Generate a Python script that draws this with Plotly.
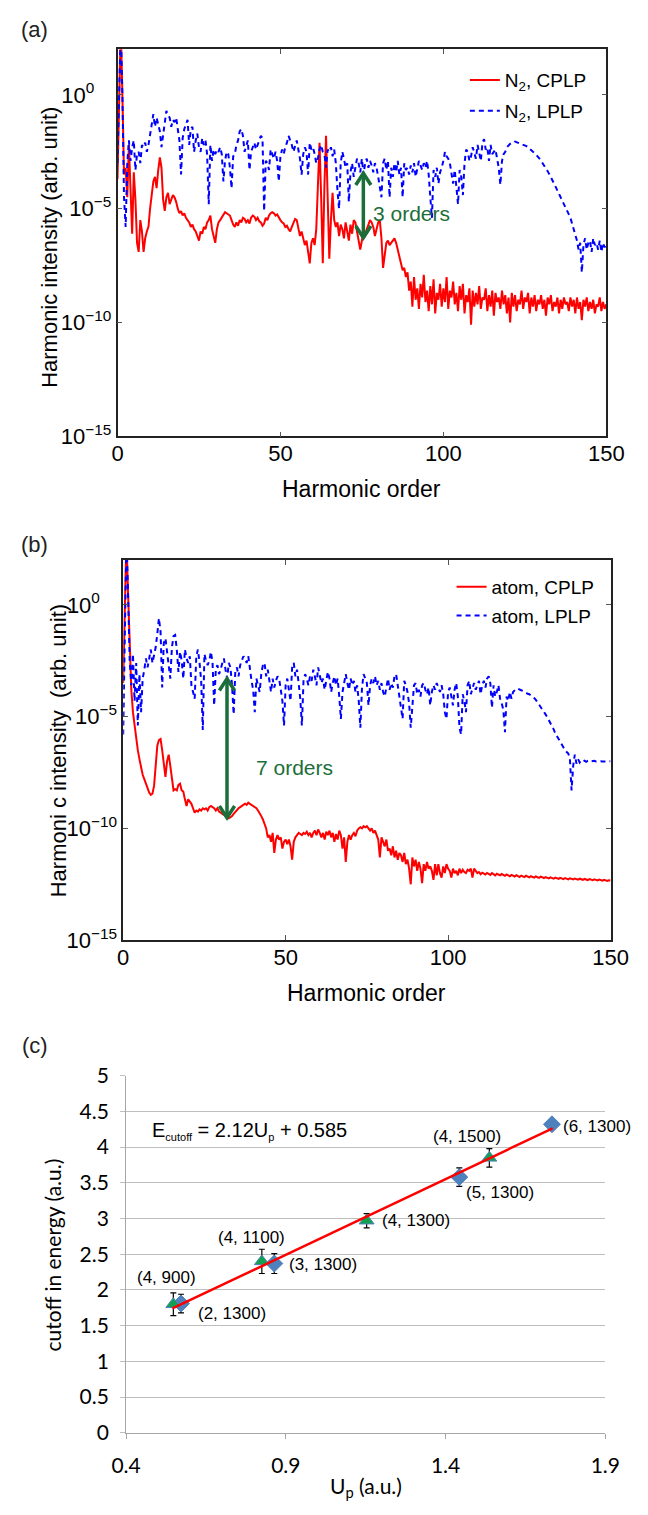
import plotly.graph_objects as go

W, H = 648, 1515

# ---------------- data ----------------
harmonic_order = [i * 0.5 for i in range(301)]   # 0 ... 150, step 0.5

# log10 of harmonic intensity, panel (a) N2
n2_cplp_log10 = [
    -3.7, 0.5, 3.0, 0.0, -3.5, -3.2, -4.5, -2.2, -4.0, -6.1, -3.4, -4.6, -6.5, -6.9, -5.5, -6.0, -6.9, -6.3, -6.0, -5.8,
    -5.0, -4.5, -3.8, -3.6, -4.1, -3.3, -2.75, -3.2, -4.6, -5.1, -4.5, -4.3, -4.8, -4.6, -4.4, -4.5, -4.7, -5.0, -5.2, -5.1,
    -5.3, -5.2, -5.4, -5.5, -5.6, -5.8, -5.7, -5.9, -6.0, -6.2, -6.4, -6.0, -6.1, -5.8, -5.9, -5.6, -5.5, -5.3, -5.9, -6.2,
    -6.5, -5.9, -5.6, -5.5, -5.4, -5.25, -5.15, -5.2, -5.25, -5.3, -5.5, -5.7, -5.8, -5.6, -5.75, -5.5, -5.6, -5.4, -5.45, -5.6,
    -5.5, -5.65, -5.4, -5.3, -5.35, -5.5, -5.4, -5.55, -5.6, -5.75, -5.65, -5.4, -5.5, -5.3, -5.2, -5.15, -5.2, -5.3, -5.25, -5.4,
    -5.5, -5.6, -5.65, -5.8, -5.75, -5.9, -6.0, -5.8, -5.6, -5.45, -5.5, -5.9, -6.2, -6.0, -6.3, -6.6, -6.4, -7.0, -7.4, -6.5,
    -6.3, -6.6, -5.9, -4.0, -2.1, -4.5, -7.4, -4.0, -1.8, -4.5, -7.2, -5.5, -4.3, -5.5, -5.8, -5.6, -6.2, -5.7, -5.9, -6.3,
    -5.6, -6.0, -6.4, -5.7, -6.1, -5.5, -5.6, -6.0, -6.4, -6.8, -6.4, -6.0, -6.1, -5.9, -5.7, -5.5, -5.6, -5.8, -6.2, -5.9,
    -5.6, -5.5, -6.3, -7.6, -7.1, -6.5, -6.4, -6.6, -6.5, -6.4, -6.3, -6.5, -6.8, -7.1, -7.4, -7.7, -7.6, -8.0, -7.8, -8.6,
    -8.2, -9.3, -8.0, -9.0, -8.5, -9.4, -8.3, -8.9, -7.9, -9.1, -8.6, -9.5, -8.4, -9.2, -8.1, -9.6, -8.7, -9.0, -8.3, -9.3,
    -8.5, -9.1, -8.0, -9.4, -8.6, -8.9, -8.2, -9.2, -8.7, -9.5, -8.4, -9.0, -8.3, -9.6, -8.8, -9.1, -8.5, -10.1, -8.6, -9.3,
    -8.7, -9.2, -8.4, -9.4, -8.9, -9.0, -8.5, -9.5, -8.8, -9.3, -8.6, -9.7, -8.7, -9.1, -8.9, -9.4, -8.6, -9.2, -8.8, -9.6,
    -8.9, -10.0, -8.7, -9.3, -8.8, -9.5, -9.0, -9.2, -8.6, -9.4, -8.9, -9.1, -8.7, -9.6, -8.9, -9.3, -8.8, -9.5, -9.0, -9.2,
    -8.8, -9.4, -9.0, -9.7, -8.9, -9.2, -8.8, -9.5, -9.1, -9.3, -8.9, -9.6, -9.0, -9.4, -8.9, -9.2, -9.1, -9.5, -8.9, -9.3,
    -9.0, -9.6, -8.9, -9.4, -9.1, -9.9, -9.0, -9.3, -8.9, -9.5, -9.1, -9.4, -9.0, -9.6, -9.2, -9.3, -8.9, -9.5, -9.1, -9.4,
    -9.2,
]

n2_lplp_log10 = [
    -3.0, 0.5, 3.0, 0.0, -4.5, -5.8, -3.0, -2.0, -2.9, -2.3, -2.0, -3.3, -2.6, -2.5, -3.0, -2.2, -2.3, -2.1, -2.5, -2.2,
    -1.7, -1.2, -0.85, -1.4, -1.0, -1.3, -1.6, -2.3, -1.8, -1.2, -0.7, -0.9, -1.0, -1.4, -1.1, -1.2, -1.0, -1.5, -2.0, -3.5,
    -1.9, -1.5, -1.3, -1.1, -2.2, -1.5, -1.4, -2.5, -2.0, -1.7, -2.3, -2.5, -1.9, -2.2, -2.0, -2.6, -4.8, -2.2, -2.9, -2.4,
    -2.6, -2.4, -2.5, -2.3, -2.6, -3.8, -2.9, -2.5, -2.6, -3.2, -4.1, -2.7, -2.6, -2.2, -2.0, -1.6, -1.5, -1.8, -2.5, -2.2,
    -2.0, -3.3, -2.5, -2.3, -2.1, -2.4, -2.2, -2.0, -1.8, -1.9, -5.1, -2.9, -3.0, -3.3, -2.4, -2.6, -2.8, -2.5, -2.9, -3.8,
    -2.7, -2.4, -2.6, -2.3, -2.1, -1.8, -2.0, -2.2, -2.5, -2.2, -2.0, -2.4, -2.8, -3.5, -2.6, -2.3, -2.5, -3.5, -2.1, -2.4,
    -2.3, -2.6, -3.0, -2.8, -2.4, -2.2, -2.5, -2.6, -3.2, -2.4, -2.5, -2.3, -2.7, -2.4, -3.0, -4.2, -5.0, -3.0, -2.5, -2.8,
    -3.2, -3.0, -4.7, -3.4, -3.0, -3.6, -3.1, -2.8, -3.0, -3.4, -2.8, -3.5, -3.0, -2.8, -3.2, -2.9, -3.1, -3.4, -3.0, -3.2,
    -3.6, -4.0, -4.5, -3.0, -2.8, -3.3, -2.9, -4.5, -3.2, -3.6, -3.0, -3.4, -2.9, -3.5, -3.2, -4.5, -3.0, -3.3, -3.2, -3.5,
    -3.1, -3.4, -3.0, -3.6, -3.2, -2.9, -3.1, -3.3, -3.0, -3.2, -2.9, -3.5, -4.5, -5.4, -3.3, -3.6, -3.2, -3.9, -3.4, -3.2,
    -2.9, -2.5, -2.7, -2.8, -3.0, -3.4, -3.9, -3.3, -4.1, -4.8, -3.3, -3.6, -4.4, -3.0, -2.4, -2.5, -2.9, -2.7, -2.3, -2.6,
    -2.8, -2.2, -2.5, -2.9, -2.1, -1.95, -2.4, -2.3, -2.9, -2.2, -2.6, -2.5, -2.4, -2.8, -3.2, -3.95, -2.9, -2.6, -2.5, -2.3,
    -2.2, -2.15, -2.1, -2.1, -2.05, -2.08, -2.1, -2.12, -2.15, -2.18, -2.2, -2.25, -2.3, -2.38, -2.45, -2.5, -2.55, -2.62, -2.7, -2.8,
    -2.9, -3.0, -3.1, -3.22, -3.35, -3.48, -3.6, -3.75, -3.9, -4.05, -4.2, -4.35, -4.5, -4.65, -4.8, -4.95, -5.1, -5.25, -5.4, -5.65,
    -5.9, -6.2, -6.4, -6.8, -6.5, -7.8, -6.6, -6.3, -6.8, -6.5, -6.4, -6.9, -6.3, -6.6, -6.5, -6.8, -6.4, -6.9, -6.5, -6.7,
    -6.5,
]

# log10 of harmonic intensity, panel (b) atom
atom_cplp_log10 = [
    -3.5, 1.0, 3.0, 0.5, -2.3, -3.8, -4.8, -5.4, -6.0, -6.5, -6.9, -7.3, -7.6, -7.8, -8.0, -8.25, -8.4, -8.5, -8.45, -8.1,
    -7.2, -6.3, -6.05, -6.0, -6.5, -7.1, -7.7, -7.0, -6.7, -7.2, -7.9, -8.3, -8.25, -8.3, -8.05, -8.0, -8.3, -8.35, -8.7, -9.0,
    -8.7, -8.8, -8.9, -9.1, -9.3, -9.2, -9.25, -9.15, -9.2, -9.1, -9.15, -9.1, -9.2, -9.05, -9.0, -9.05, -9.1, -9.2, -9.1, -9.25,
    -9.3, -9.35, -9.4, -9.45, -9.5, -9.55, -9.5, -9.45, -9.35, -9.25, -9.2, -9.1, -9.05, -9.0, -8.95, -8.9, -8.95, -8.85, -8.9, -8.95,
    -9.0, -9.05, -9.1, -9.2, -9.3, -9.45, -9.6, -9.8, -10.0, -10.4, -10.3, -10.6, -10.2, -11.1, -10.5, -10.3, -10.5, -10.4, -10.9, -10.6,
    -10.5, -10.7, -10.5, -10.8, -11.4, -10.6, -10.4, -10.3, -10.2, -10.25, -10.3, -10.2, -10.25, -10.15, -10.3, -10.2, -10.4, -10.2, -10.1, -10.3,
    -10.05, -10.2, -10.4, -10.2, -10.5, -10.15, -10.3, -10.1, -10.4, -10.2, -10.6, -10.25, -10.5, -10.1, -10.3, -10.9, -10.4, -11.5, -10.6, -10.3,
    -10.5, -10.3, -10.2, -10.35, -10.1, -10.0, -9.95, -10.0, -9.9, -9.95, -9.9, -10.0, -10.1, -10.0, -10.2, -10.1, -10.3, -10.5, -11.3, -10.4,
    -10.6, -10.8, -10.5, -11.0, -10.9, -11.2, -10.8, -11.3, -11.0, -11.4, -11.1, -11.2, -11.5, -11.1, -11.6, -11.4, -11.8, -12.5, -11.3, -11.7,
    -11.4, -11.9, -11.5, -11.8, -12.45, -11.6, -11.9, -11.5, -11.8, -11.7, -11.9, -12.3, -11.6, -12.1, -11.6, -12.0, -12.2, -11.7, -12.0, -11.6,
    -11.8, -11.9, -12.2, -11.8, -12.0, -11.9, -12.1, -11.8, -12.0, -11.85, -11.95, -12.0, -11.85, -11.9, -11.8, -12.2, -11.8, -11.9, -12.0, -11.95,
    -12.05, -11.98, -12.02, -12.06, -11.99, -12.04, -12.08, -12.0, -12.05, -12.1, -12.03, -12.07, -12.1, -12.04, -12.08, -12.12, -12.06, -12.1, -12.14, -12.08,
    -12.12, -12.15, -12.09, -12.13, -12.17, -12.11, -12.15, -12.18, -12.12, -12.16, -12.19, -12.14, -12.17, -12.2, -12.15, -12.18, -12.21, -12.16, -12.19, -12.22,
    -12.18, -12.21, -12.24, -12.19, -12.22, -12.25, -12.2, -12.23, -12.26, -12.21, -12.24, -12.27, -12.22, -12.25, -12.28, -12.23, -12.26, -12.28, -12.24, -12.27,
    -12.29, -12.25, -12.28, -12.3, -12.26, -12.29, -12.31, -12.27, -12.3, -12.32, -12.28, -12.31, -12.33, -12.29, -12.32, -12.34, -12.3, -12.33, -12.35, -12.32,
    -12.33,
]

atom_lplp_log10 = [
    -5.8, 1.0, 3.0, 0.5, -2.5, -3.6, -2.2, -4.3, -2.6, -5.4, -3.1, -4.8, -3.3, -2.9, -2.4, -2.8, -2.4, -2.0, -2.6, -2.2,
    -1.9, -1.3, -0.6, -1.2, -3.7, -1.7, -1.5, -2.1, -2.8, -3.3, -1.9, -1.4, -1.35, -2.0, -3.0, -2.1, -2.5, -3.3, -2.0, -2.4,
    -2.6, -2.3, -3.6, -3.9, -4.2, -2.3, -2.0, -2.6, -3.4, -5.6, -2.2, -2.5, -2.7, -2.5, -2.1, -2.6, -4.5, -2.9, -2.7, -3.1,
    -2.9, -2.6, -2.4, -2.9, -3.3, -2.6, -2.8, -3.6, -4.9, -3.0, -2.8, -3.2, -2.7, -2.5, -2.3, -2.4, -2.6, -2.3, -2.9, -3.4,
    -3.8, -4.8, -3.3, -3.6, -3.9, -3.1, -2.7, -2.6, -3.2, -2.9, -3.5, -3.9, -3.3, -3.7, -3.4, -3.2, -3.3, -3.8, -4.3, -5.4,
    -3.6, -3.3, -3.9, -4.3, -2.8, -2.6, -3.2, -2.9, -3.5, -4.2, -5.4, -3.4, -3.1, -3.3, -3.6, -3.2, -3.4, -2.9, -3.2, -3.6,
    -2.8, -3.1, -3.5, -3.3, -3.8, -3.4, -3.0, -3.3, -3.9, -3.5, -3.2, -3.6, -3.3, -4.1, -5.1, -3.9, -3.4, -3.1, -3.5, -3.8,
    -3.3, -3.6, -3.4, -3.9, -3.6, -4.3, -5.5, -3.7, -3.1, -3.3, -3.5, -4.5, -3.6, -3.3, -3.5, -3.2, -3.6, -3.4, -3.8, -3.5,
    -3.9, -4.1, -3.6, -3.3, -3.8, -3.5, -3.7, -3.2, -3.1, -3.6, -3.9, -4.4, -5.1, -3.4, -3.6, -3.9, -4.4, -5.5, -4.6, -3.6,
    -3.5, -4.0, -3.8, -4.1, -3.6, -3.5, -3.8, -4.0, -3.7, -4.5, -3.9, -3.6, -3.8, -3.5, -3.7, -3.9, -3.6, -4.0, -4.8, -5.1,
    -3.9, -3.7, -4.1, -4.5, -3.8, -3.5, -4.1, -5.5, -5.8, -4.0, -4.3, -4.8, -3.6, -3.4, -4.0, -3.7, -3.5, -3.8, -3.6, -3.4,
    -4.0, -3.6, -3.4, -3.7, -3.3, -3.2, -3.5, -4.6, -3.6, -4.1, -3.9, -3.6, -4.2, -4.4, -4.7, -5.7, -4.1, -4.3, -3.9, -4.2,
    -3.9, -3.8, -3.75, -3.75, -3.8, -3.82, -3.85, -3.9, -3.95, -3.98, -4.0, -4.05, -4.1, -4.17, -4.25, -4.35, -4.45, -4.57, -4.7, -4.8,
    -4.9, -5.02, -5.15, -5.28, -5.4, -5.57, -5.75, -5.88, -6.0, -6.15, -6.3, -6.4, -6.5, -6.58, -6.65, -6.9, -8.3, -7.2, -6.7, -7.1,
    -6.9, -7.05, -6.95, -7.0, -6.97, -7.02, -6.98, -7.01, -6.99, -7.0, -6.98, -7.01, -7.0, -6.99, -7.0, -7.01, -7.0, -7.0, -7.01, -7.0,
    -7.0,
]

# panel (c): cutoff energy vs Up, labels are (cycles, wavelength nm)
tri_up = [0.548, 0.825, 1.153, 1.537]
tri_cutoff = [1.80, 2.40, 2.97, 3.85]
tri_err = [0.16, 0.17, 0.10, 0.13]
tri_labels = ["(4, 900)", "(4, 1100)", "(4, 1300)", "(4, 1500)"]

dia_up = [0.572, 0.864, 1.443, 1.733]
dia_cutoff = [1.81, 2.37, 3.58, 4.32]
dia_err = [0.13, 0.14, 0.13, 0.03]
dia_labels = ["(2, 1300)", "(3, 1300)", "(5, 1300)", "(6, 1300)"]

fit_slope = 2.12
fit_intercept = 0.585
fit_up_range = [0.545, 1.735]

# tick labels of the log axes
log_tickvals = [1e-15, 1e-10, 1e-5, 1]
log_ticktext = ["10<sup>\u221215</sup>", "10<sup>\u221210</sup>", "10<sup>\u22125</sup>",
                "10<sup>0\u00a0\u00a0\u00a0\u00a0</sup>"]
order_ticks = [0, 50, 100, 150]

# ---------------- styling / layout helpers ----------------
ARIAL = "Arial, Liberation Sans, Helvetica, sans-serif"
CALI = "Lato, Carlito, Calibri, sans-serif"
RED = "#FF0000"
BLUE = "#0000FF"
GREEN = "#1B6E3A"

tri_label_shift = [(-7, 27), (-10, 24), (49, 0), (-22, 21)]
dia_label_shift = [(51, -10), (49, -1), (41, -15), (45, -2)]


def px(x):
    return x / W


def py(y):
    return 1 - y / H


fig = go.Figure()

# panel (a)
fig.add_trace(go.Scatter(x=harmonic_order, y=[10 ** v for v in n2_cplp_log10], mode="lines",
                         line=dict(color=RED, width=2), name="N<sub>2</sub>, CPLP",
                         xaxis="x", yaxis="y", legend="legend", legendgroup="a1"))
fig.add_trace(go.Scatter(x=harmonic_order, y=[10 ** v for v in n2_lplp_log10], mode="lines",
                         line=dict(color=BLUE, width=2, dash="5px,4px"), name="N<sub>2</sub>, LPLP",
                         xaxis="x", yaxis="y", legend="legend", legendgroup="a2"))
# panel (b)
fig.add_trace(go.Scatter(x=harmonic_order, y=[10 ** v for v in atom_cplp_log10], mode="lines",
                         line=dict(color=RED, width=2), name="atom, CPLP",
                         xaxis="x2", yaxis="y2", legend="legend2", legendgroup="b1"))
fig.add_trace(go.Scatter(x=harmonic_order, y=[10 ** v for v in atom_lplp_log10], mode="lines",
                         line=dict(color=BLUE, width=2, dash="5px,4px"), name="atom, LPLP",
                         xaxis="x2", yaxis="y2", legend="legend2", legendgroup="b2"))
# panel (c)
fig.add_trace(go.Scatter(x=dia_up, y=dia_cutoff, mode="markers",
                         marker=dict(symbol="diamond", size=13, color="#4F81BD", line=dict(color="#4F81BD", width=1)),
                         error_y=dict(type="data", array=dia_err, color="black", thickness=1.2, width=3),
                         xaxis="x3", yaxis="y3", showlegend=False))
fig.add_trace(go.Scatter(x=tri_up, y=tri_cutoff, mode="markers",
                         marker=dict(symbol="triangle-up", size=13, color="#12A150", line=dict(color="#4F81BD", width=1)),
                         error_y=dict(type="data", array=tri_err, color="black", thickness=1.2, width=3),
                         xaxis="x3", yaxis="y3", showlegend=False))
fig.add_trace(go.Scatter(x=fit_up_range, y=[fit_slope * u + fit_intercept for u in fit_up_range], mode="lines",
                         line=dict(color=RED, width=2.5), xaxis="x3", yaxis="y3", showlegend=False))

# ---------------- axes ----------------
spec_x = dict(range=[0, 150], tickvals=order_ticks, ticks="inside", ticklen=5, tickcolor="#555",
              mirror="ticks", showline=True, linecolor="#222", linewidth=1.5, showgrid=False, zeroline=False,
              ticklabelstandoff=-3, tickfont=dict(family=ARIAL, size=22, color="black"))
spec_y = dict(type="log", range=[-15, 2], tickvals=log_tickvals, ticktext=log_ticktext, ticks="inside",
              ticklen=5, tickcolor="#555", mirror="ticks", showline=True, linecolor="#222", linewidth=1.5,
              showgrid=False, zeroline=False, tickfont=dict(family=ARIAL, size=22, color="black"))

fig.update_layout(
    width=W, height=H, margin=dict(l=0, r=0, t=0, b=0),
    paper_bgcolor="white", plot_bgcolor="white",
    xaxis=dict(domain=[px(108), px(623)], anchor="y", **spec_x),
    yaxis=dict(domain=[py(430), py(36)], anchor="x", **spec_y),
    xaxis2=dict(domain=[px(114), px(627.5)], anchor="y2", **spec_x),
    yaxis2=dict(domain=[py(943), py(556)], anchor="x2", **spec_y),
    xaxis3=dict(domain=[px(117), px(622)], anchor="y3", range=[0.4, 1.9], tick0=0.4, dtick=0.5,
                ticks="outside", ticklen=5, tickcolor="#A6A6A6", showline=True, linecolor="#A6A6A6",
                linewidth=1, showgrid=False, zeroline=False, ticklabelstandoff=9,
                tickfont=dict(family=CALI, size=21, color="black")),
    yaxis3=dict(domain=[py(1444.5), py(1081)], anchor="x3", range=[0, 5], tick0=0, dtick=0.5,
                ticks="outside", ticklen=5, tickcolor="#BFBFBF", showline=True, linecolor="#A6A6A6",
                linewidth=1, showgrid=True, gridcolor="#BFBFBF", gridwidth=1, zeroline=False,
                ticklabelstandoff=7, tickfont=dict(family=CALI, size=21, color="black")),
    legend=dict(x=px(474), y=py(48), xanchor="left", yanchor="top", bgcolor="rgba(0,0,0,0)",
                font=dict(family=ARIAL, size=19, color="black"), tracegroupgap=3, borderwidth=0),
    legend2=dict(x=px(460), y=py(564), xanchor="left", yanchor="top", bgcolor="rgba(0,0,0,0)",
                 font=dict(family=ARIAL, size=19, color="black"), tracegroupgap=1, borderwidth=0),
    showlegend=True,
)

# ---------------- annotations ----------------
ann = []


def ptext(text, x, y, size, family=ARIAL, angle=0, color="black", xanchor="center"):
    ann.append(dict(text=text, x=px(x), y=py(y), xref="paper", yref="paper", showarrow=False,
                    textangle=angle, xanchor=xanchor, yanchor="middle",
                    font=dict(family=family, size=size, color=color)))


ptext("(a)", 21, 16, 22, color="#222")
ptext("(b)", 21, 540, 22, color="#222")
ptext("(c)", 21, 1050, 22, color="#222")

ptext("Harmonic intensity (arb. unit)", 37, 238, 22, angle=-90)
ptext("Harmonic order", 365.5, 484, 23)
ptext("Harmoni c intensity  (arb. unit)", 46, 750, 22, angle=-90)
ptext("Harmonic order", 370.5, 997, 23)

ptext("cutoff in energy (a.u.)", 40, 1263, 21, family=CALI, angle=-90)
ptext("U<sub>p</sub> (a.u.)", 369.5, 1500, 21, family=CALI)

# order-gap annotations
ann.append(dict(text="3 orders", x=0.518, y=0.576, xref="x domain", yref="y domain", showarrow=False,
                xanchor="left", yanchor="middle", font=dict(family=ARIAL, size=21, color=GREEN)))
ann.append(dict(text="7 orders", x=0.268, y=0.4556, xref="x2 domain", yref="y2 domain", showarrow=False,
                xanchor="left", yanchor="middle", font=dict(family=ARIAL, size=21, color=GREEN)))

# equation
ann.append(dict(text="E<sub><span style='font-size:11px'>cutoff</span></sub> = 2.12U<sub><span style='font-size:11px'>p</span></sub> + 0.585",
                x=0.474, y=4.23, xref="x3", yref="y3", showarrow=False, xanchor="left", yanchor="middle",
                font=dict(family=ARIAL, size=20, color="black")))

for u, c, lab, (dx, dy) in zip(tri_up, tri_cutoff, tri_labels, tri_label_shift):
    ann.append(dict(text=lab, x=u, y=c, xref="x3", yref="y3", showarrow=False, xshift=dx, yshift=dy,
                    xanchor="center", yanchor="middle", font=dict(family=ARIAL, size=17, color="black")))
for u, c, lab, (dx, dy) in zip(dia_up, dia_cutoff, dia_labels, dia_label_shift):
    ann.append(dict(text=lab, x=u, y=c, xref="x3", yref="y3", showarrow=False, xshift=dx, yshift=dy,
                    xanchor="center", yanchor="middle", font=dict(family=ARIAL, size=17, color="black")))

fig.update_layout(annotations=ann)

# double-headed arrows (domain coordinates)
shapes = []


def double_arrow(xr, yr, xc, ytop, ybot, ax, ay):
    line = dict(color=GREEN, width=3.5)
    shapes.append(dict(type="line", xref=xr, yref=yr, x0=xc, x1=xc, y0=ybot, y1=ytop, line=line))
    shapes.append(dict(type="path", xref=xr, yref=yr,
                       path=f"M{xc - ax},{ytop - ay} L{xc},{ytop} L{xc + ax},{ytop - ay}", line=line))
    shapes.append(dict(type="path", xref=xr, yref=yr,
                       path=f"M{xc - ax},{ybot + ay} L{xc},{ybot} L{xc + ax},{ybot + ay}", line=line))


double_arrow("x domain", "y domain", 0.503, 0.680, 0.513, 0.0155, 0.0305)
double_arrow("x2 domain", "y2 domain", 0.213, 0.688, 0.322, 0.0156, 0.031)
fig.update_layout(shapes=shapes)

fig.write_html("out.html")
